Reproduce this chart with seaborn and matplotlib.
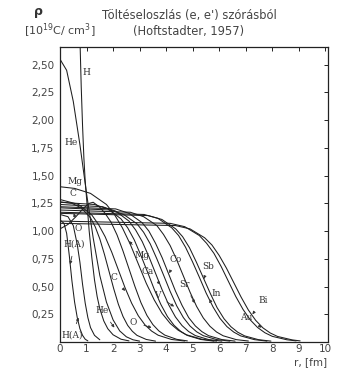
import pandas as pd
import matplotlib
matplotlib.use("Agg")
import matplotlib.pyplot as plt
import seaborn as sns

# --- adatok: toltessuruseg gorbek (r [fm], rho [10^19 C/cm^3]) leolvasva a kepről ---
r_h = [0.76, 0.80, 0.85, 0.90, 0.95, 1.00, 1.05, 1.10, 1.20, 1.30, 1.40, 1.50, 1.65, 1.80, 2.00, 2.30, 2.60]
rho_h = [2.66, 2.30, 1.95, 1.66, 1.45, 1.30, 1.15, 1.00, 0.76, 0.56, 0.41, 0.30, 0.19, 0.12, 0.065, 0.025, 0.01]

r_d1 = [0.0, 0.15, 0.25, 0.35, 0.45, 0.55, 0.65, 0.75, 0.85, 0.95, 1.05]
rho_d1 = [1.10, 1.07, 0.98, 0.78, 0.55, 0.36, 0.22, 0.12, 0.06, 0.025, 0.01]

r_d2 = [0.0, 0.3, 0.5, 0.65, 0.75, 0.85, 0.95, 1.05, 1.15, 1.3, 1.5]
rho_d2 = [1.15, 1.13, 1.05, 0.88, 0.72, 0.52, 0.35, 0.22, 0.13, 0.06, 0.02]

r_he = [0.0, 0.25, 0.5, 0.75, 1.0, 1.25, 1.5, 1.75, 2.0, 2.25, 2.5, 2.75, 3.0]
rho_he = [2.55, 2.45, 2.17, 1.78, 1.34, 0.94, 0.60, 0.36, 0.20, 0.10, 0.047, 0.02, 0.008]

r_li = [0.0, 0.45, 0.8, 1.15, 1.325, 1.5, 1.675, 1.85, 2.025, 2.2, 2.375, 2.55, 2.725, 2.9, 3.25, 3.6]
rho_li = [1.264, 1.25, 1.21, 1.12, 1.04, 0.93, 0.79, 0.635, 0.48, 0.34, 0.23, 0.15, 0.097, 0.06, 0.023, 0.008]

r_c = [0.0, 0.7, 1.2, 1.45, 1.7, 1.95, 2.2, 2.45, 2.7, 2.95, 3.2, 3.45, 3.7, 4.2, 4.7]
rho_c = [1.285, 1.24, 1.145, 1.06, 0.95, 0.81, 0.65, 0.49, 0.35, 0.237, 0.155, 0.099, 0.061, 0.023, 0.009]

r_o = [0.0, 0.3, 0.6, 0.9, 1.1, 1.25, 1.5, 1.7, 1.925, 2.15, 2.375, 2.6, 2.825, 3.05, 3.275, 3.5, 3.725, 3.95, 4.4, 4.8]
rho_o = [1.02, 1.06, 1.13, 1.21, 1.25, 1.26, 1.215, 1.16, 1.08, 0.965, 0.82, 0.66, 0.50, 0.355, 0.24, 0.157, 0.10, 0.062, 0.024, 0.01]

r_mg = [0.0, 0.55, 1.15, 1.75, 2.05, 2.35, 2.65, 2.95, 3.25, 3.55, 3.85, 4.15, 4.45, 4.75, 5.35, 5.9]
rho_mg = [1.40, 1.385, 1.34, 1.24, 1.15, 1.03, 0.88, 0.705, 0.53, 0.38, 0.257, 0.168, 0.107, 0.066, 0.025, 0.008]

r_s = [0.0, 1.3, 1.8, 2.3, 2.55, 2.8, 3.05, 3.3, 3.55, 3.8, 4.05, 4.3, 4.55, 4.8, 5.3, 5.8]
rho_s = [1.26, 1.24, 1.20, 1.11, 1.03, 0.92, 0.78, 0.63, 0.476, 0.339, 0.229, 0.15, 0.096, 0.059, 0.023, 0.008]

r_ca = [0.0, 1.6, 2.1, 2.6, 2.85, 3.1, 3.35, 3.6, 3.85, 4.1, 4.35, 4.6, 4.85, 5.1, 5.6, 6.1]
rho_ca = [1.24, 1.22, 1.18, 1.09, 1.01, 0.905, 0.77, 0.62, 0.47, 0.334, 0.226, 0.148, 0.094, 0.058, 0.022, 0.008]

r_v = [0.0, 1.9, 2.4, 2.9, 3.15, 3.4, 3.65, 3.9, 4.15, 4.4, 4.65, 4.9, 5.15, 5.4, 5.9, 6.4]
rho_v = [1.21, 1.19, 1.15, 1.066, 0.99, 0.885, 0.75, 0.605, 0.457, 0.325, 0.22, 0.144, 0.092, 0.057, 0.022, 0.008]

r_co = [0.0, 2.1, 2.6, 3.1, 3.35, 3.6, 3.85, 4.1, 4.35, 4.6, 4.85, 5.1, 5.35, 5.6, 6.1, 6.6]
rho_co = [1.22, 1.20, 1.16, 1.075, 1.0, 0.89, 0.76, 0.61, 0.46, 0.33, 0.22, 0.145, 0.093, 0.057, 0.022, 0.008]

r_sr = [0.0, 2.65, 3.15, 3.65, 3.9, 4.15, 4.4, 4.65, 4.9, 5.15, 5.4, 5.65, 5.9, 6.15, 6.65, 7.1]
rho_sr = [1.19, 1.17, 1.13, 1.05, 0.97, 0.87, 0.74, 0.595, 0.45, 0.32, 0.217, 0.142, 0.09, 0.056, 0.021, 0.009]

r_in = [0.0, 3.17, 3.69, 4.21, 4.47, 4.73, 4.99, 5.25, 5.51, 5.77, 6.03, 6.29, 6.55, 6.81, 7.33, 7.8]
rho_in = [1.17, 1.15, 1.115, 1.03, 0.96, 0.855, 0.725, 0.585, 0.44, 0.315, 0.213, 0.139, 0.089, 0.055, 0.021, 0.008]

r_sb = [0.0, 3.32, 3.84, 4.36, 4.62, 4.88, 5.14, 5.4, 5.66, 5.92, 6.18, 6.44, 6.7, 6.96, 7.48, 7.95]
rho_sb = [1.16, 1.14, 1.105, 1.02, 0.95, 0.85, 0.72, 0.58, 0.44, 0.31, 0.21, 0.138, 0.088, 0.055, 0.021, 0.008]

r_au = [0.0, 4.15, 4.7, 5.25, 5.525, 5.8, 6.075, 6.35, 6.625, 6.9, 7.175, 7.45, 7.725, 8.0, 8.55, 8.9]
rho_au = [1.09, 1.07, 1.04, 0.96, 0.89, 0.80, 0.68, 0.545, 0.41, 0.293, 0.198, 0.13, 0.083, 0.051, 0.02, 0.01]

r_bi = [0.0, 4.35, 4.9, 5.45, 5.725, 6.0, 6.275, 6.55, 6.825, 7.1, 7.375, 7.65, 7.925, 8.2, 8.75, 9.05]
rho_bi = [1.07, 1.05, 1.02, 0.94, 0.875, 0.78, 0.665, 0.535, 0.405, 0.288, 0.195, 0.127, 0.081, 0.05, 0.019, 0.01]

gorbek = {
    "H": (r_h, rho_h), "D1": (r_d1, rho_d1), "D2": (r_d2, rho_d2), "He": (r_he, rho_he),
    "Li": (r_li, rho_li), "C": (r_c, rho_c), "O": (r_o, rho_o), "Mg": (r_mg, rho_mg),
    "S": (r_s, rho_s), "Ca": (r_ca, rho_ca), "V": (r_v, rho_v), "Co": (r_co, rho_co),
    "Sr": (r_sr, rho_sr), "In": (r_in, rho_in), "Sb": (r_sb, rho_sb), "Au": (r_au, rho_au),
    "Bi": (r_bi, rho_bi),
}

# feliratok: (szoveg, szoveg x, szoveg y, nyil vege x, nyil vege y) - None ha nincs nyil
feliratok = [
    ("H", 1.0, 2.43, None, None),
    ("He", 0.42, 1.80, None, None),
    ("Mg", 0.55, 1.45, None, None),
    ("C", 0.5, 1.34, None, None),
    ("O", 0.7, 1.02, 0.52, 1.16),
    ("H(A)", 0.55, 0.88, 0.38, 0.70),
    ("Mg", 3.1, 0.78, 2.6, 0.91),
    ("Ca", 3.3, 0.64, 3.78, 0.52),
    ("Co", 4.35, 0.74, 4.12, 0.62),
    ("C", 2.05, 0.58, 2.45, 0.46),
    ("V", 3.65, 0.42, 4.3, 0.32),
    ("Sr", 4.7, 0.52, 5.08, 0.35),
    ("Sb", 5.6, 0.68, 5.42, 0.57),
    ("In", 5.9, 0.44, 5.62, 0.35),
    ("Bi", 7.65, 0.37, 7.25, 0.25),
    ("Au", 7.0, 0.22, 7.6, 0.13),
    ("He", 1.6, 0.28, 2.05, 0.13),
    ("O", 2.75, 0.18, 3.45, 0.13),
    ("H(A)", 0.45, 0.06, 0.7, 0.22),
]

x_ticks = [0, 1, 2, 3, 4, 5, 6, 7, 8, 9, 10]
y_ticks = [0.25, 0.50, 0.75, 1.00, 1.25, 1.50, 1.75, 2.00, 2.25, 2.50]

# tabla a seabornnak
sorok = []
for nev, (rr, pp) in gorbek.items():
    for i in range(len(rr)):
        sorok.append({"mag": nev, "r": rr[i], "rho": pp[i], "idx": i})
df = pd.DataFrame(sorok)

sns.set_style("white")
plt.rcParams["font.family"] = ["DejaVu Sans"]

fig = plt.figure(figsize=(3.45, 3.71), dpi=100)
ax = fig.add_axes([60 / 345, 1 - 342 / 371, 268 / 345, 295 / 371])

sns.lineplot(data=df, x="r", y="rho", units="mag", estimator=None, sort=False,
             color="#1e1e1e", lw=0.75, ax=ax, legend=False)

ax.set_xlim(0, 10.1)
ax.set_ylim(0, 2.66)
ax.set_xticks(x_ticks)
ax.set_xticklabels([str(t) for t in x_ticks])
ax.set_yticks(y_ticks)
ax.set_yticklabels([f"{t:.2f}".replace(".", ",") for t in y_ticks])
ax.tick_params(direction="in", length=3, width=0.7, top=True, right=True,
               labelsize=7.5, colors="#222222", labelcolor="#444444")
ax.tick_params(axis="x", pad=1.5)
ax.tick_params(axis="y", pad=4)
ax.set_xlabel("")
ax.set_ylabel("")
for s in ax.spines.values():
    s.set_color("#222222")
    s.set_linewidth(0.9)

for szoveg, tx, ty, ax_x, ax_y in feliratok:
    if ax_x is None:
        ax.text(tx, ty, szoveg, fontsize=6.5, family="DejaVu Serif", color="#333333",
                ha="center", va="center")
    else:
        ax.annotate(szoveg, xy=(ax_x, ax_y), xytext=(tx, ty), fontsize=6.5,
                    family="DejaVu Serif", color="#333333", ha="center", va="center",
                    arrowprops=dict(arrowstyle="-|>", lw=0.6, color="#333333",
                                    mutation_scale=4, shrinkA=3, shrinkB=0))

# feliratok a tengelyeken kivul
fig.text(38 / 345, 1 - 12 / 371, "ρ", fontsize=9, fontweight="bold", color="#333333",
         ha="center", va="center")
fig.text(60 / 345, 1 - 31 / 371, "[10$^{19}$C/ cm$^{3}$]", fontsize=8, color="#444444",
         ha="center", va="center")
fig.text(189 / 345, 1 - 15 / 371, "Töltéseloszlás (e, e') szórásból", fontsize=8.3,
         color="#444444", ha="center", va="center")
fig.text(189 / 345, 1 - 31 / 371, "(Hoftstadter, 1957)", fontsize=8.3, color="#444444",
         ha="center", va="center")
fig.text(311 / 345, 1 - 362 / 371, "r, [fm]", fontsize=7.5, color="#444444",
         ha="center", va="center")

fig.savefig("out.png", dpi=100, facecolor="white")
